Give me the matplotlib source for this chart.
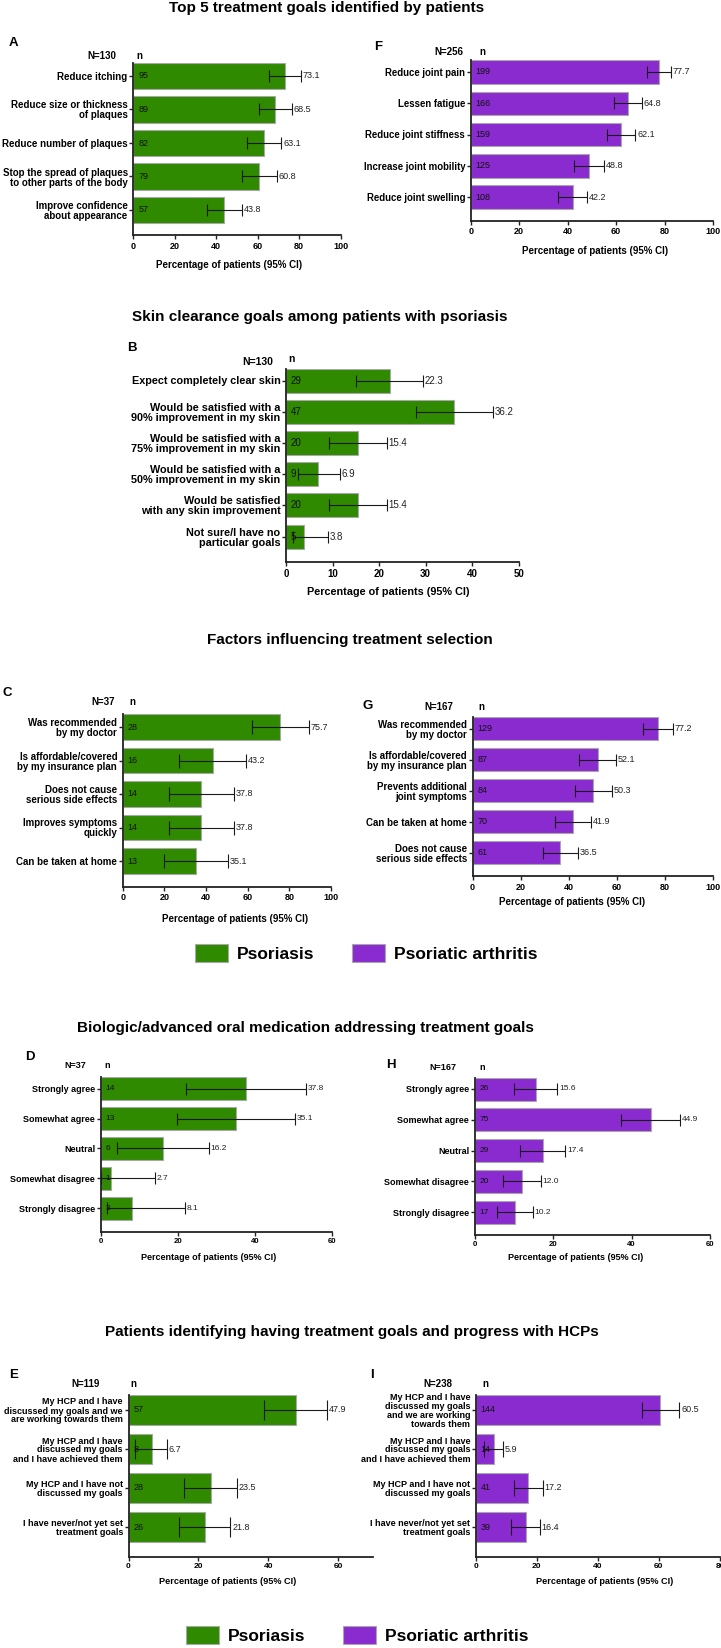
import numpy as np
import matplotlib
matplotlib.use("Agg")
import matplotlib.pyplot as plt
from matplotlib.patches import Patch

plt.rcParams['font.family'] = ['Liberation Sans', 'DejaVu Sans']

W, H = 721, 1648
GREEN = '#2F8A00'
PURPLE = '#8A2BD0'

# ---------------- data ----------------
a_labels = ['Reduce itching', 'Reduce size or thickness\nof plaques', 'Reduce number of plaques',
            'Stop the spread of plaques\nto other parts of the body', 'Improve confidence\nabout appearance']
a_n = [95, 89, 82, 79, 57]
a_pct = [73.1, 68.5, 63.1, 60.8, 43.8]
a_lo = [65.5, 60.5, 54.8, 52.4, 35.3]
a_hi = [80.7, 76.5, 71.4, 69.2, 52.3]

f_labels = ['Reduce joint pain', 'Lessen fatigue', 'Reduce joint stiffness',
            'Increase joint mobility', 'Reduce joint swelling']
f_n = [199, 166, 159, 125, 108]
f_pct = [77.7, 64.8, 62.1, 48.8, 42.2]
f_lo = [72.6, 59.0, 56.2, 42.7, 36.1]
f_hi = [82.8, 70.7, 68.0, 54.9, 48.2]

b_labels = ['Expect completely clear skin', 'Would be satisfied with a\n90% improvement in my skin',
            'Would be satisfied with a\n75% improvement in my skin',
            'Would be satisfied with a\n50% improvement in my skin',
            'Would be satisfied\nwith any skin improvement', 'Not sure/I have no\nparticular goals']
b_n = [29, 47, 20, 9, 20, 5]
b_pct = [22.3, 36.2, 15.4, 6.9, 15.4, 3.8]
b_lo = [15.1, 27.9, 9.2, 2.6, 9.2, 1.4]
b_hi = [29.5, 44.5, 21.6, 11.6, 21.6, 9.0]

c_labels = ['Was recommended\nby my doctor', 'Is affordable/covered\nby my insurance plan',
            'Does not cause\nserious side effects', 'Improves symptoms\nquickly', 'Can be taken at home']
c_n = [28, 16, 14, 14, 13]
c_pct = [75.7, 43.2, 37.8, 37.8, 35.1]
c_lo = [61.9, 27.2, 22.2, 22.2, 19.7]
c_hi = [89.5, 59.2, 53.4, 53.4, 50.5]

g_labels = ['Was recommended\nby my doctor', 'Is affordable/covered\nby my insurance plan',
            'Prevents additional\njoint symptoms', 'Can be taken at home',
            'Does not cause\nserious side effects']
g_n = [129, 87, 84, 70, 61]
g_pct = [77.2, 52.1, 50.3, 41.9, 36.5]
g_lo = [70.8, 44.5, 42.7, 34.4, 29.2]
g_hi = [83.6, 59.7, 57.9, 49.4, 43.8]

agree_labels = ['Strongly agree', 'Somewhat agree', 'Neutral', 'Somewhat disagree', 'Strongly disagree']
d_n = [14, 13, 6, 1, 3]
d_pct = [37.8, 35.1, 16.2, 2.7, 8.1]
d_lo = [22.2, 19.7, 4.3, 0.1, 1.7]
d_hi = [53.4, 50.5, 28.1, 14.2, 21.9]

h_n = [26, 75, 29, 20, 17]
h_pct = [15.6, 44.9, 17.4, 12.0, 10.2]
h_lo = [10.1, 37.4, 11.6, 7.1, 5.6]
h_hi = [21.1, 52.4, 23.1, 16.9, 14.8]

e_labels = ['My HCP and I have\ndiscussed my goals and we\nare working towards them',
            'My HCP and I have\ndiscussed my goals\nand I have achieved them',
            'My HCP and I have not\ndiscussed my goals', 'I have never/not yet set\ntreatment goals']
e_n = [57, 8, 28, 26]
e_pct = [47.9, 6.7, 23.5, 21.8]
e_lo = [38.9, 2.0, 15.9, 14.4]
e_hi = [56.9, 11.0, 31.1, 29.2]

i_labels = ['My HCP and I have\ndiscussed my goals\nand we are working\ntowards them',
            'My HCP and I have\ndiscussed my goals\nand I have achieved them',
            'My HCP and I have not\ndiscussed my goals', 'I have never/not yet set\ntreatment goals']
i_n = [144, 14, 41, 39]
i_pct = [60.5, 5.9, 17.2, 16.4]
i_lo = [54.3, 2.8, 12.4, 11.7]
i_hi = [66.7, 9.1, 22.0, 21.1]

XLABEL = 'Percentage of patients (95% CI)'

fig = plt.figure(figsize=(W / 100, H / 100), dpi=100)


def ftext(x, y, s, **kw):
    kw.setdefault('ha', 'center')
    kw.setdefault('va', 'center')
    fig.text(x / W, 1 - y / H, s, **kw)


def panel(x0, x1, xmax, xticks, c1, s, bh, yb, labels, n, pct, lo, hi, color,
          yfs, xfs, lfs, vfs, cap, xl_x, xl_y, tick_pad):
    k = len(labels)
    top = c1 - bh / 2
    ax = fig.add_axes([x0 / W, 1 - yb / H, (x1 - x0) / W, (yb - top) / H])
    y = np.arange(k)
    pct = np.array(pct)
    ax.barh(y, pct, height=bh / s, color=color, edgecolor='#a8a8a8', linewidth=0.8, zorder=2)
    ax.errorbar(pct, y, xerr=[pct - np.array(lo), np.array(hi) - pct], fmt='none',
                ecolor='#1a1a1a', elinewidth=0.8, capsize=cap, capthick=0.8, zorder=3)
    for yi, v, h, nn in zip(y, pct, hi, n):
        ax.annotate(f'{v:.1f}', (h, yi), xytext=(1.2, 0), textcoords='offset points',
                    va='center', ha='left', fontsize=vfs, color='#222222')
        ax.annotate(str(nn), (0, yi), xytext=(3.5, 0), textcoords='offset points',
                    va='center', ha='left', fontsize=vfs, color='#111111', zorder=4)
    c_last = c1 + (k - 1) * s
    ax.set_ylim(k - 1 + (yb - c_last) / s, -bh / (2 * s))
    ax.set_xlim(0, xmax)
    ax.set_xticks(xticks)
    ax.set_xticklabels([str(t) for t in xticks], fontsize=xfs, fontweight='bold')
    ax.set_yticks(y)
    ax.set_yticklabels(labels, fontsize=yfs, fontweight='bold', linespacing=1.0)
    for sp in ['top', 'right']:
        ax.spines[sp].set_visible(False)
    for sp in ['left', 'bottom']:
        ax.spines[sp].set_linewidth(1.3)
        ax.spines[sp].set_color('#222222')
    ax.tick_params(axis='y', length=3, width=1.0, pad=1, color='#222222')
    ax.tick_params(axis='x', length=3, width=1.0, pad=tick_pad, color='#222222')
    ax.set_xlabel(XLABEL, fontsize=lfs, fontweight='bold')
    ax.xaxis.label.set_va('center')
    hpx = yb - top
    ax.xaxis.set_label_coords((xl_x - x0) / (x1 - x0), -(xl_y - yb) / hpx)
    ax.set_facecolor('none')
    return ax


# ---------------- Titles ----------------
TFS = 11
ftext(327, 8, 'Top 5 treatment goals identified by patients', fontsize=TFS, fontweight='bold')
ftext(320, 317, 'Skin clearance goals among patients with psoriasis', fontsize=TFS, fontweight='bold')
ftext(350, 640, 'Factors influencing treatment selection', fontsize=TFS, fontweight='bold')
ftext(305, 1028, 'Biologic/advanced oral medication addressing treatment goals', fontsize=TFS, fontweight='bold')
ftext(352, 1332, 'Patients identifying having treatment goals and progress with HCPs', fontsize=TFS, fontweight='bold')

# ---------------- Panels ----------------
panel(133.3, 340.7, 100, [0, 20, 40, 60, 80, 100], 76, 33.5, 26.7, 235,
      a_labels, a_n, a_pct, a_lo, a_hi, GREEN, 7, 6.5, 7, 6.5, 4.3, 229, 265, 2)
panel(470.7, 713, 100, [0, 20, 40, 60, 80, 100], 72, 31.25, 23.5, 221,
      f_labels, f_n, f_pct, f_lo, f_hi, PURPLE, 6.9, 6.5, 7, 6.5, 4.4, 595, 251, 1.5)
panel(286, 518.7, 50, [0, 10, 20, 30, 40, 50], 380.5, 31.2, 24, 562,
      b_labels, b_n, b_pct, b_lo, b_hi, GREEN, 7.8, 7, 7.8, 7, 4.2, 388, 592, 2)
panel(122.8, 331, 100, [0, 20, 40, 60, 80, 100], 727, 33.5, 25.5, 887,
      c_labels, c_n, c_pct, c_lo, c_hi, GREEN, 7, 6.5, 7, 6.5, 4.8, 235, 918.5, 1.5)
panel(472.6, 712.6, 100, [0, 20, 40, 60, 80, 100], 728.6, 31, 23.6, 876,
      g_labels, g_n, g_pct, g_lo, g_hi, PURPLE, 7, 6.5, 7, 6.5, 4.3, 572, 902, 2)
panel(100.7, 331.7, 60, [0, 20, 40, 60], 1088.6, 29.9, 23, 1232,
      agree_labels, d_n, d_pct, d_lo, d_hi, GREEN, 6.5, 5.6, 6.5, 6, 4.2, 209, 1257, 1.5)
panel(474.7, 710, 60, [0, 20, 40, 60], 1089, 30.75, 23, 1235,
      agree_labels, h_n, h_pct, h_lo, h_hi, PURPLE, 6.5, 5.6, 6.5, 6, 4.2, 576, 1257, 1.5)
panel(128.5, 373, 70, [0, 20, 40, 60], 1410, 39, 30, 1557,
      e_labels, e_n, e_pct, e_lo, e_hi, GREEN, 6.5, 6, 6.6, 6.5, 7, 228, 1582, 1.5)
panel(475.7, 720, 80, [0, 20, 40, 60, 80], 1410, 39, 30, 1557,
      i_labels, i_n, i_pct, i_lo, i_hi, PURPLE, 6.5, 6, 6.6, 6.5, 5.8, 605, 1582, 1.5)

# ---------------- Panel letters and N labels ----------------
LFS = 9.5
for letter, x, y in [('A', 13, 43), ('F', 378, 47), ('B', 132, 348), ('C', 7, 693), ('G', 368, 706),
                     ('D', 30, 1057), ('H', 391, 1065), ('E', 14, 1375), ('I', 372, 1375)]:
    ftext(x, y, letter, fontsize=LFS, fontweight='bold')

for txt, x, y, fs in [('N=130', 102, 56, 7), ('N=256', 449, 52, 7), ('N=130', 258, 362, 7.5),
                      ('N=37', 103, 702.5, 7), ('N=167', 439, 707, 7), ('N=37', 75, 1066, 6.5),
                      ('N=167', 443, 1068, 6.5), ('N=119', 86, 1384, 7), ('N=238', 438, 1384, 7)]:
    ftext(x, y, txt, fontsize=fs, fontweight='bold')

for x, y, fs in [(139, 56, 7), (482, 52, 7), (291, 359, 7.5), (132, 702.5, 7), (481, 707, 7),
                 (107, 1066, 6.5), (482, 1068, 6.5), (133, 1384, 7), (485, 1384, 7)]:
    ftext(x, y, 'n', fontsize=fs, fontweight='bold')

# ---------------- Legends ----------------
handles = [Patch(facecolor=GREEN, edgecolor='#a8a8a8', linewidth=0.8, label='Psoriasis'),
           Patch(facecolor=PURPLE, edgecolor='#a8a8a8', linewidth=0.8, label='Psoriatic arthritis')]
for cx, cy in [(366, 953), (357, 1635)]:
    fig.legend(handles=handles, loc='center', bbox_to_anchor=(cx / W, 1 - cy / H), ncol=2,
               frameon=False, prop={'weight': 'bold', 'size': 12.5}, handlelength=1.9,
               handleheight=1.3, handletextpad=0.5, columnspacing=2.2, borderpad=0, borderaxespad=0)

fig.savefig('out.png', dpi=100)
